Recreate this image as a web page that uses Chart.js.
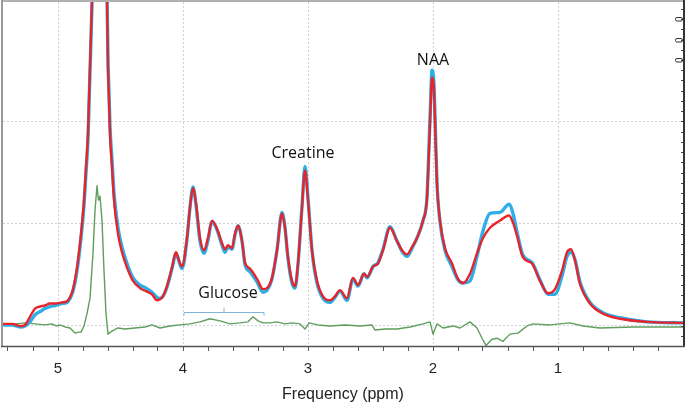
<!DOCTYPE html>
<html>
<head>
<meta charset="utf-8">
<script src="https://cdn.jsdelivr.net/npm/chart.js@4.4.1/dist/chart.umd.min.js"></script>
<style>
  html, body { margin: 0; padding: 0; background: #ffffff; }
  #wrap { width: 685px; height: 403px; }
</style>
</head>
<body>
<div id="wrap"><canvas id="c" width="685" height="403"></canvas></div>
<script>
// ---- data (ppm, amplitude in gridline units) ----
const ppmRB = [
  5.44, 5.368, 5.304, 5.264, 5.224, 5.184, 5.144, 5.104, 5.064, 5.024,
  4.968, 4.928, 4.904, 4.88, 4.848, 4.816, 4.792, 4.776, 4.76, 4.752,
  4.744, 4.728, 4.676, 4.608, 4.60, 4.592, 4.584, 4.568, 4.552, 4.52,
  4.488, 4.448, 4.40, 4.344, 4.296, 4.248, 4.208, 4.184, 4.16, 4.128,
  4.088, 4.056, 4.032, 4.008, 3.968, 3.944, 3.92, 3.896, 3.864, 3.832,
  3.80, 3.768, 3.728, 3.688, 3.664, 3.64, 3.608, 3.584, 3.56, 3.528,
  3.504, 3.464, 3.408, 3.36, 3.328, 3.288, 3.248, 3.208, 3.184, 3.16,
  3.128, 3.104, 3.08, 3.048, 3.024, 3.00, 2.968, 2.928, 2.88, 2.824,
  2.784, 2.744, 2.688, 2.64, 2.60, 2.552, 2.528, 2.48, 2.44, 2.40,
  2.344, 2.288, 2.248, 2.208, 2.168, 2.128, 2.08, 2.048, 2.032, 2.02,
  2.008, 1.992, 1.984, 1.968, 1.944, 1.904, 1.848, 1.80, 1.76, 1.704,
  1.648, 1.60, 1.544, 1.464, 1.392, 1.36, 1.328, 1.28, 1.208, 1.144,
  1.08, 1.024, 0.968, 0.928, 0.896, 0.864, 0.824, 0.744, 0.64, 0.504,
  0.288, 0
];
const redVals = [
  0.02, 0.02, 0.00, 0.01, 0.09, 0.17, 0.19, 0.20, 0.22, 0.22,
  0.23, 0.24, 0.28, 0.36, 0.57, 0.90, 1.23, 1.55, 1.88, 2.21,
  2.53, 3.19, 5.6, 3.19, 2.53, 2.21, 1.88, 1.55, 1.23, 0.90,
  0.72, 0.57, 0.44, 0.37, 0.34, 0.31, 0.25, 0.26, 0.29, 0.39,
  0.57, 0.72, 0.64, 0.58, 0.86, 1.16, 1.35, 1.20, 0.86, 0.74,
  0.86, 1.03, 0.95, 0.81, 0.75, 0.79, 0.76, 0.90, 0.98, 0.83,
  0.62, 0.56, 0.46, 0.36, 0.37, 0.47, 0.74, 1.10, 0.96, 0.67,
  0.44, 0.39, 0.61, 1.16, 1.52, 1.23, 0.74, 0.44, 0.29, 0.25,
  0.29, 0.35, 0.27, 0.47, 0.40, 0.51, 0.48, 0.58, 0.61, 0.74,
  0.96, 0.83, 0.74, 0.70, 0.77, 0.86, 1.03, 1.25, 1.72, 2.11,
  2.43, 2.30, 2.01, 1.39, 1.03, 0.76, 0.61, 0.46, 0.42, 0.51,
  0.71, 0.86, 0.96, 1.03, 1.08, 1.01, 0.88, 0.67, 0.61, 0.44,
  0.32, 0.36, 0.54, 0.72, 0.75, 0.64, 0.41, 0.22, 0.12, 0.07,
  0.04, 0.03
];
const blueVals = [
  0.01, 0.01, -0.01, 0.00, 0.04, 0.11, 0.14, 0.17, 0.19, 0.20,
  0.22, 0.23, 0.27, 0.34, 0.54, 0.86, 1.18, 1.50, 1.83, 2.16,
  2.48, 3.14, 5.6, 3.25, 2.60, 2.28, 1.95, 1.62, 1.30, 0.96,
  0.77, 0.61, 0.47, 0.40, 0.37, 0.33, 0.28, 0.27, 0.29, 0.38,
  0.56, 0.71, 0.63, 0.56, 0.85, 1.16, 1.36, 1.18, 0.83, 0.71,
  0.84, 1.02, 0.94, 0.79, 0.72, 0.77, 0.75, 0.89, 0.98, 0.83,
  0.60, 0.53, 0.43, 0.33, 0.35, 0.46, 0.74, 1.11, 0.96, 0.66,
  0.42, 0.37, 0.60, 1.17, 1.56, 1.25, 0.74, 0.42, 0.27, 0.23,
  0.28, 0.34, 0.25, 0.46, 0.39, 0.51, 0.47, 0.58, 0.62, 0.75,
  0.97, 0.83, 0.73, 0.68, 0.76, 0.86, 1.03, 1.26, 1.76, 2.17,
  2.50, 2.36, 2.05, 1.40, 1.02, 0.74, 0.58, 0.45, 0.42, 0.44,
  0.68, 0.93, 1.10, 1.11, 1.19, 1.10, 0.92, 0.69, 0.62, 0.45,
  0.31, 0.31, 0.49, 0.68, 0.72, 0.65, 0.43, 0.23, 0.13, 0.08,
  0.04, 0.03
];
const ppmGreen = [
  5.44, 5.344, 5.264, 5.184, 5.104, 5.048, 5.016, 4.984, 4.944, 4.904,
  4.864, 4.84, 4.816, 4.792, 4.768, 4.744, 4.72, 4.704, 4.688, 4.676,
  4.664, 4.648, 4.632, 4.616, 4.60, 4.568, 4.52, 4.464, 4.384, 4.304,
  4.248, 4.184, 4.104, 4.024, 3.944, 3.864, 3.784, 3.704, 3.624, 3.544,
  3.48, 3.44, 3.40, 3.36, 3.304, 3.248, 3.184, 3.128, 3.064, 3.024,
  2.992, 2.92, 2.824, 2.704, 2.584, 2.488, 2.464, 2.384, 2.288, 2.184,
  2.08, 2.024, 2.00, 1.968, 1.92, 1.84, 1.784, 1.704, 1.648, 1.608,
  1.576, 1.528, 1.488, 1.44, 1.384, 1.32, 1.248, 1.20, 1.064, 0.984,
  0.904, 0.80, 0.664, 0.40, 0
];
const greenVals = [
  0.02, 0.02, 0.03, 0.02, 0.01, 0.02, 0.00, 0.01, -0.01, -0.02,
  -0.07, -0.06, -0.06, 0.00, 0.12, 0.27, 0.71, 1.13, 1.37, 1.23,
  1.27, 1.03, 0.54, 0.12, -0.08, -0.05, -0.02, -0.03, -0.02, -0.01,
  0.01, -0.02, 0.00, 0.01, 0.02, 0.04, 0.07, 0.05, 0.02, 0.03,
  0.04, 0.09, 0.05, 0.03, 0.03, 0.04, 0.02, 0.03, 0.02, -0.03,
  0.03, 0.01, 0.00, 0.01, 0.00, 0.01, -0.04, -0.03, -0.03, -0.01,
  0.02, 0.04, -0.08, 0.02, -0.02, 0.00, -0.02, 0.04, -0.02, -0.12,
  -0.19, -0.13, -0.12, -0.15, -0.08, -0.07, 0.00, 0.02, 0.01, 0.02,
  0.03, 0.00, -0.02, -0.01, -0.01
];
const xTickLabels = [5, 4, 3, 2, 1];
const xMinorStep = 0.2;
const yGridValues = [0, 1, 2];
const rightMarkers = [3.0, 2.8, 2.6];
const peakLabels = [
  { text: 'NAA', ppm: 2.0, val: 2.60 },
  { text: 'Creatine', ppm: 3.04, val: 1.69 },
  { text: 'Glucose', ppm: 3.64, val: 0.32 }
];
const glucoseRange = { from: 3.992, to: 3.352, val: 0.14 };
const xTitle = 'Frequency (ppm)';

// ---- helpers ----
const toXY = (xs, ys) => xs.map((x, i) => ({ x: x, y: ys[i] }));
const isMajor = v => xTickLabels.some(t => Math.abs(t - v) < 1e-6);

const overlay = {
  id: 'overlay',
  afterDraw(chart) {
    const { ctx, chartArea: a, scales: { x, y } } = chart;
    ctx.save();
    // frame
    ctx.lineWidth = 2;
    ctx.strokeStyle = '#b0b0b0';
    ctx.beginPath(); ctx.moveTo(a.left, a.top - 1); ctx.lineTo(a.right, a.top - 1); ctx.stroke();
    ctx.strokeStyle = '#9a9a9a';
    ctx.beginPath(); ctx.moveTo(a.left - 1, a.top - 2); ctx.lineTo(a.left - 1, a.bottom); ctx.stroke();
    ctx.strokeStyle = '#333333';
    ctx.beginPath(); ctx.moveTo(a.right + 1, a.top - 2); ctx.lineTo(a.right + 1, a.bottom + 1); ctx.stroke();
    ctx.lineWidth = 1.5;
    ctx.strokeStyle = '#555555';
    ctx.beginPath(); ctx.moveTo(a.left - 2, a.bottom + 0.5); ctx.lineTo(a.right + 2, a.bottom + 0.5); ctx.stroke();
    // right side minor ticks
    ctx.lineWidth = 1;
    ctx.strokeStyle = '#444444';
    for (let v = -0.1; v <= 3.15; v += 0.1) {
      const py = Math.round(y.getPixelForValue(v)) + 0.5;
      ctx.beginPath(); ctx.moveTo(a.right - 2, py); ctx.lineTo(a.right, py); ctx.stroke();
    }
    // right markers
    ctx.strokeStyle = '#333333';
    rightMarkers.forEach(v => {
      const py = Math.round(y.getPixelForValue(v));
      ctx.beginPath();
      ctx.roundRect(a.right - 7.5, py - 1.5, 7, 3.5, 1.5);
      ctx.stroke();
    });
    // glucose bracket
    const gx1 = x.getPixelForValue(glucoseRange.from);
    const gx2 = x.getPixelForValue(glucoseRange.to);
    const gy = Math.round(y.getPixelForValue(glucoseRange.val)) + 0.5;
    const gm = (gx1 + gx2) / 2;
    ctx.strokeStyle = '#7fb4dc';
    ctx.lineWidth = 1;
    ctx.beginPath();
    ctx.moveTo(gx1, gy + 3); ctx.lineTo(gx1, gy); ctx.lineTo(gx2, gy); ctx.lineTo(gx2, gy + 3);
    ctx.moveTo(gm, gy); ctx.lineTo(gm, gy - 5);
    ctx.stroke();
    // peak labels
    ctx.fillStyle = '#111111';
    ctx.font = '16px "Open Sans", "Liberation Sans", sans-serif';
    ctx.textAlign = 'center';
    ctx.textBaseline = 'middle';
    peakLabels.forEach(p => {
      ctx.fillText(p.text, x.getPixelForValue(p.ppm), y.getPixelForValue(p.val));
    });
    ctx.restore();
  }
};

new Chart(document.getElementById('c'), {
  type: 'line',
  data: {
    datasets: [
      { label: 'fit', data: toXY(ppmRB, redVals), borderColor: '#e8242b', borderWidth: 2.4, order: 0 },
      { label: 'spectrum', data: toXY(ppmRB, blueVals), borderColor: '#2eaee8', borderWidth: 3.4, order: 1 },
      { label: 'residual', data: toXY(ppmGreen, greenVals), borderColor: '#5f9e5c', borderWidth: 1.4, tension: 0, cubicInterpolationMode: 'default', order: 2 }
    ]
  },
  options: {
    responsive: false,
    animation: false,
    events: [],
    parsing: true,
    elements: {
      point: { radius: 0 },
      line: { cubicInterpolationMode: 'monotone', borderCapStyle: 'round', borderJoinStyle: 'round' }
    },
    layout: { padding: { left: 3, right: 2, top: 2, bottom: 0 } },
    plugins: { legend: { display: false }, tooltip: { enabled: false } },
    scales: {
      x: {
        type: 'linear',
        reverse: true,
        min: 0,
        max: 5.44,
        afterBuildTicks(axis) {
          const t = [];
          for (let i = 1; i * xMinorStep < axis.max - 1e-6; i++) t.push({ value: +(i * xMinorStep).toFixed(2) });
          axis.ticks = t;
        },
        ticks: {
          autoSkip: false,
          maxRotation: 0,
          padding: 9,
          color: '#222222',
          font: { family: '"Liberation Sans", Arial, sans-serif', size: 15 },
          callback: v => (isMajor(v) ? String(Math.round(v)) : '')
        },
        grid: {
          color: ctx => (ctx.tick && isMajor(ctx.tick.value) ? '#cfd0d8' : 'rgba(0,0,0,0)'),
          tickColor: '#555555',
          tickLength: 5,
          tickWidth: 1,
          lineWidth: 1
        },
        border: { display: false, dash: [2, 2] },
        title: {
          display: true,
          text: xTitle,
          color: '#222222',
          font: { family: '"Liberation Sans", Arial, sans-serif', size: 16, lineHeight: 1.0 },
          padding: { top: 0, bottom: 0 }
        }
      },
      y: {
        type: 'linear',
        min: -0.196,
        max: 3.167,
        afterBuildTicks(axis) { axis.ticks = yGridValues.map(v => ({ value: v })); },
        ticks: { display: false },
        grid: { color: '#cfd0d8', drawTicks: false, lineWidth: 1 },
        border: { display: false, dash: [2, 2] }
      }
    }
  },
  plugins: [overlay]
});
</script>
</body>
</html>
